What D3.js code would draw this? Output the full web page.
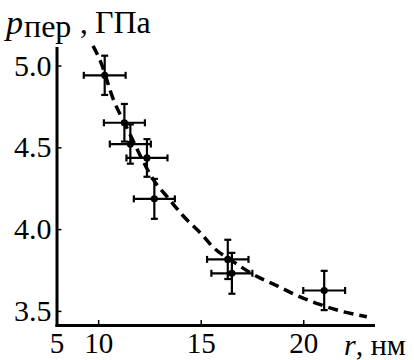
<!DOCTYPE html>
<html>
<head>
<meta charset="utf-8">
<script src="https://cdn.jsdelivr.net/npm/d3@7/dist/d3.min.js"></script>
<style>
	body { margin: 0; background: #fff; }
	svg { display: block; }
</style>
</head>
<body>
<div id="chart"></div>
<script>
// measured points: radius r (nm), pressure p (GPa) and their errors
let radius = [10.32, 11.28, 11.57, 12.38, 12.74, 16.32, 16.52, 21.02]
let pressure = [4.94, 4.65, 4.52, 4.435, 4.185, 3.815, 3.73, 3.625]
let radiusErr = [1.02, 1.0, 1.0, 1.0, 1.0, 1.01, 1.0, 1.02]
let pressureErr = [0.12, 0.115, 0.12, 0.115, 0.122, 0.12, 0.125, 0.12]

// dashed fit curve
let fitR = [9.75, 10.1, 10.75, 11.4, 12.05, 12.65, 13.45, 14.15, 15.0, 15.6, 16.6, 17.75, 18.7, 19.6, 20.8, 21.8, 23.1]
let fitP = [5.12, 5.03, 4.79, 4.62, 4.45, 4.31, 4.185, 4.08, 3.975, 3.89, 3.80, 3.71, 3.655, 3.60, 3.54, 3.50, 3.465]

let xTickValues = [7.97, 10, 15, 20]
let xTickLabels = ['5', '10', '15', '20']
let yTickValues = [3.5, 4.0, 4.5, 5.0]

let width = 414, height = 360
let margin = {top: 48, right: 41, bottom: 35, left: 56.5}
let serif = '"Liberation Serif"'

let svg = d3.select('#chart')
	.append('svg')
	.attr('width', width)
	.attr('height', height)

let x = d3.scaleLinear()
	.domain([7.97, 23.4])
	.range([margin.left, width - margin.right])

let y = d3.scaleLinear()
	.domain([3.414, 5.107])
	.range([height - margin.bottom, margin.top])

let xAxis = svg.append('g')
	.attr('transform', 'translate(0,' + (height - margin.bottom) + ')')
	.call(d3.axisBottom(x)
		.tickValues(xTickValues)
		.tickFormat(function(d, i) { return xTickLabels[i] })
		.tickSizeInner(-5)
		.tickSizeOuter(0)
		.tickPadding(7))

let yAxis = svg.append('g')
	.attr('transform', 'translate(' + margin.left + ',0)')
	.call(d3.axisLeft(y)
		.tickValues(yTickValues)
		.tickFormat(d3.format('.1f'))
		.tickSizeInner(-5)
		.tickSizeOuter(0)
		.tickPadding(5))

svg.selectAll('.domain')
	.attr('stroke', '#000')
	.attr('stroke-width', 3)
	.attr('stroke-linecap', 'square')
svg.selectAll('.tick line')
	.attr('stroke', '#000')
	.attr('stroke-width', 1.5)
svg.selectAll('.tick text')
	.attr('fill', '#000')
xAxis.selectAll('.tick text').style('font-size', '29px')
yAxis.selectAll('.tick text').style('font-size', '30px')

// fit curve
svg.append('path')
	.datum(fitR.map(function(r, i) { return [r, fitP[i]] }))
	.attr('fill', 'none')
	.attr('stroke', '#000')
	.attr('stroke-width', 3.5)
	.attr('stroke-dasharray', '10,6')
	.attr('d', d3.line()
		.x(function(d) { return x(d[0]) })
		.y(function(d) { return y(d[1]) })
		.curve(d3.curveMonotoneX))

let pts = radius.map(function(r, i) {
	return {r: r, p: pressure[i], dr: radiusErr[i], dp: pressureErr[i]}
})

let cap = 3.5
let bars = svg.append('g')
	.attr('stroke', '#000')
	.attr('stroke-width', 2.2)

pts.forEach(function(d) {
	let cx = x(d.r), cy = y(d.p)
	let x0 = x(d.r - d.dr), x1 = x(d.r + d.dr)
	let y0 = y(d.p - d.dp), y1 = y(d.p + d.dp)
	bars.append('line').attr('x1', x0).attr('x2', x1).attr('y1', cy).attr('y2', cy)
	bars.append('line').attr('x1', cx).attr('x2', cx).attr('y1', y0).attr('y2', y1)
	bars.append('line').attr('x1', x0).attr('x2', x0).attr('y1', cy - cap).attr('y2', cy + cap)
	bars.append('line').attr('x1', x1).attr('x2', x1).attr('y1', cy - cap).attr('y2', cy + cap)
	bars.append('line').attr('x1', cx - cap).attr('x2', cx + cap).attr('y1', y0).attr('y2', y0)
	bars.append('line').attr('x1', cx - cap).attr('x2', cx + cap).attr('y1', y1).attr('y2', y1)
})

svg.selectAll('.dot')
	.data(pts)
	.enter()
	.append('circle')
	.attr('class', 'dot')
	.attr('cx', function(d) { return x(d.r) })
	.attr('cy', function(d) { return y(d.p) })
	.attr('r', 3.6)
	.attr('fill', '#000')

// axis titles
let yTitle = svg.append('text')
	.attr('y', 34)
yTitle.append('tspan').attr('x', 6).style('font-style', 'italic').style('font-size', '34px').text('p')
yTitle.append('tspan').attr('x', 24).attr('dy', 3).style('font-size', '32px').text('пер')
yTitle.append('tspan').attr('x', 80).attr('dy', -4).style('font-size', '31px').text(',')
yTitle.append('tspan').attr('x', 95).style('font-size', '32px').text('ГПа')

let xTitle = svg.append('text')
	.attr('x', 344)
	.attr('y', 355)
	.style('font-size', '30px')
xTitle.append('tspan').style('font-style', 'italic').text('r')
xTitle.append('tspan').text(', нм')

// same font on every label, set inline so the axis default cannot win
svg.selectAll('text')
	.style('font-family', serif)
	.attr('fill', '#000')
</script>
</body>
</html>
